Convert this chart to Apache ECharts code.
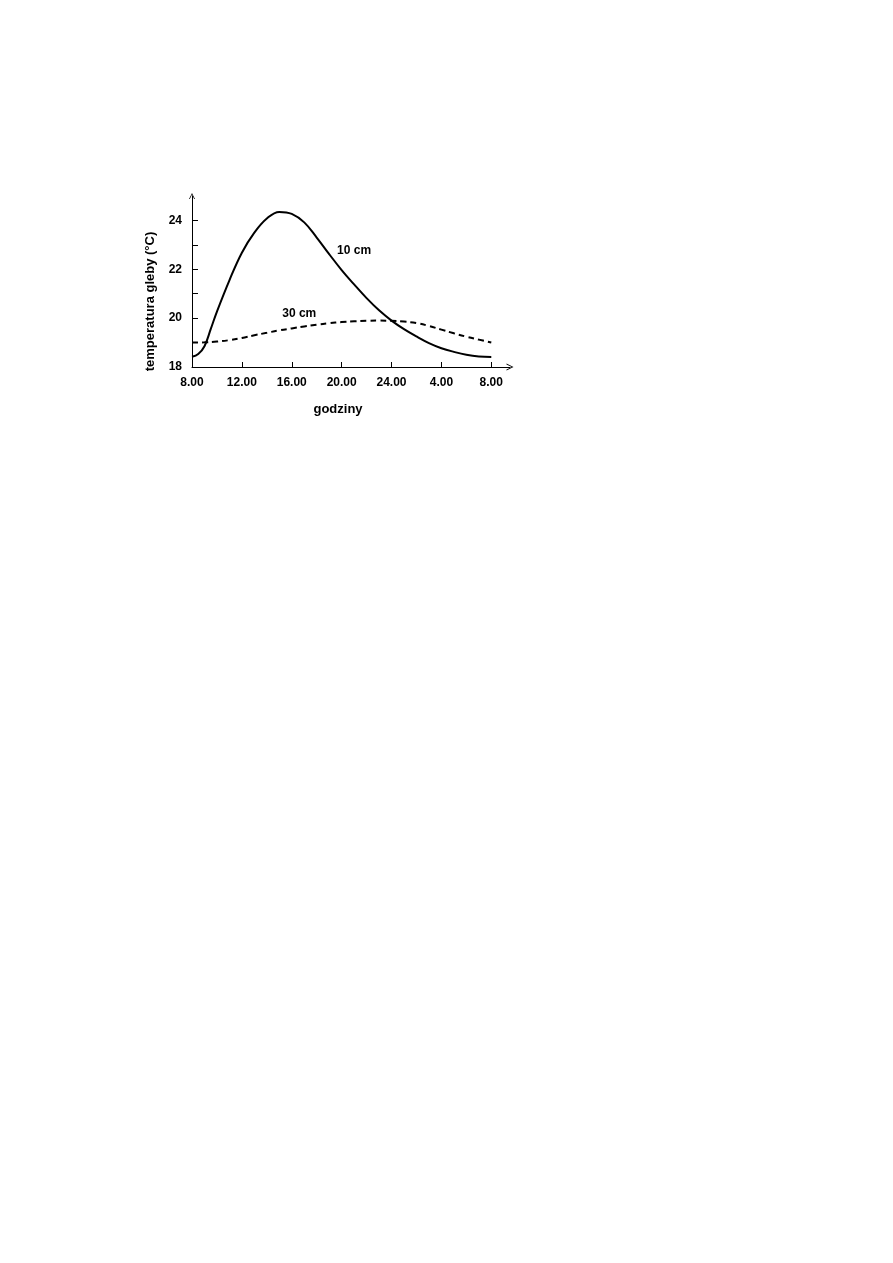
<!DOCTYPE html>
<html>
<head>
<meta charset="utf-8">
<script src="https://cdn.jsdelivr.net/npm/echarts@6/dist/echarts.min.js"></script>
<style>
	html, body { margin: 0; padding: 0; background: #fff; }
	#chart { width: 893px; height: 1263px; }
</style>
</head>
<body>
<div id="chart"></div>
<script>
// godziny od 8.00 (0 = 8.00, 24 = 8.00 następnego dnia)
const xTickHours = [0, 4, 8, 12, 16, 20, 24]
const xTickLabels = ['8.00', '12.00', '16.00', '20.00', '24.00', '4.00', '8.00']
const yTicks = [18, 19, 20, 21, 22, 23, 24]
const yLabels = [18, 20, 22, 24]

// 10 cm (gęściej na początku, gdzie krzywa się zagina)
const hours10 = [0, 0.5, 1, 1.5, 2, 3, 4, 5, 6, 7, 8, 9, 10, 11, 12, 13, 14, 15, 16, 17, 18, 19, 20, 21, 22, 23, 24]
const temp10 = [18.42, 18.53, 18.85, 19.55, 20.27, 21.55, 22.68, 23.5, 24.08, 24.35, 24.27, 23.92, 23.3, 22.62, 21.97, 21.38, 20.82, 20.32, 19.9, 19.55, 19.25, 18.98, 18.77, 18.62, 18.5, 18.43, 18.41]
// 30 cm
const hours30 = [0, 1, 2, 3, 4, 5, 6, 7, 8, 9, 10, 11, 12, 13, 14, 15, 16, 17, 18, 19, 20, 21, 22, 23, 24]
const temp30 = [19.0, 19.01, 19.04, 19.1, 19.19, 19.3, 19.4, 19.5, 19.58, 19.66, 19.73, 19.79, 19.84, 19.87, 19.89, 19.9, 19.89, 19.86, 19.8, 19.68, 19.53, 19.38, 19.24, 19.12, 19.0]

const seriesNames = ['10 cm', '30 cm']
// miejsca podpisów krzywych [godzina, temperatura]
const labelPos = [[13.0, 22.75], [8.6, 20.2]]

const font = "'Liberation Sans', Arial, sans-serif"
// otwarta strzałka na końcu osi
const arrow = 'path://M0,10 L5,0 L10,10 L8.6,10 L5,2.6 L1.4,10 Z'

const chart = echarts.init(document.getElementById('chart'))

function curveLabel(text) {
	return {
		show: true,
		formatter: text,
		fontFamily: font,
		fontWeight: 'bold',
		fontSize: 12,
		color: '#000',
	}
}

const option = {
	animation: false,
	grid: {
		left: 192,
		top: 196,
		width: 318,
		height: 171,
	},
	xAxis: {
		type: 'value',
		min: 0,
		max: 25.5,
		name: 'godziny',
		nameLocation: 'middle',
		nameGap: 36,
		nameTextStyle: {
			fontFamily: font,
			fontWeight: 'bold',
			fontSize: 13,
			color: '#000',
			padding: [0, 26, 0, 0],
		},
		axisLine: {
			show: true,
			symbol: ['none', arrow],
			symbolSize: [7, 9],
			lineStyle: { color: '#000', width: 1 },
		},
		axisTick: {
			show: true,
			inside: true,
			length: 5,
			customValues: xTickHours,
			lineStyle: { color: '#000' },
		},
		axisLabel: {
			customValues: xTickHours,
			margin: 10,
			fontFamily: font,
			fontWeight: 'bold',
			fontSize: 12,
			color: '#000',
			formatter: function (v) {
				return xTickLabels[xTickHours.indexOf(v)]
			},
		},
		splitLine: { show: false },
	},
	yAxis: {
		type: 'value',
		min: 18,
		max: 25,
		name: 'temperatura gleby (°C)',
		nameLocation: 'middle',
		nameGap: 35,
		nameTextStyle: {
			fontFamily: font,
			fontWeight: 'bold',
			fontSize: 13,
			color: '#000',
			padding: [0, 40, 0, 0],
		},
		axisLine: {
			show: true,
			symbol: ['none', arrow],
			symbolSize: [6, 9],
			lineStyle: { color: '#000', width: 1 },
		},
		axisTick: {
			show: true,
			inside: true,
			length: 6,
			customValues: yTicks,
			lineStyle: { color: '#000' },
		},
		axisLabel: {
			customValues: yLabels,
			margin: 10,
			fontFamily: font,
			fontWeight: 'bold',
			fontSize: 12,
			color: '#000',
		},
		splitLine: { show: false },
	},
	series: [
		{
			name: seriesNames[0],
			type: 'line',
			smooth: 0.4,
			symbol: 'none',
			lineStyle: { color: '#000', width: 2 },
			data: hours10.map((h, i) => [h, temp10[i]]),
			markPoint: {
				symbol: 'circle',
				symbolSize: 0,
				label: curveLabel(seriesNames[0]),
				data: [{ coord: labelPos[0] }],
			},
		},
		{
			name: seriesNames[1],
			type: 'line',
			smooth: 0.4,
			symbol: 'none',
			lineStyle: { color: '#000', width: 2, type: [6, 4] },
			data: hours30.map((h, i) => [h, temp30[i]]),
			markPoint: {
				symbol: 'circle',
				symbolSize: 0,
				label: curveLabel(seriesNames[1]),
				data: [{ coord: labelPos[1] }],
			},
		},
	],
}
chart.setOption(option)
</script>
</body>
</html>
